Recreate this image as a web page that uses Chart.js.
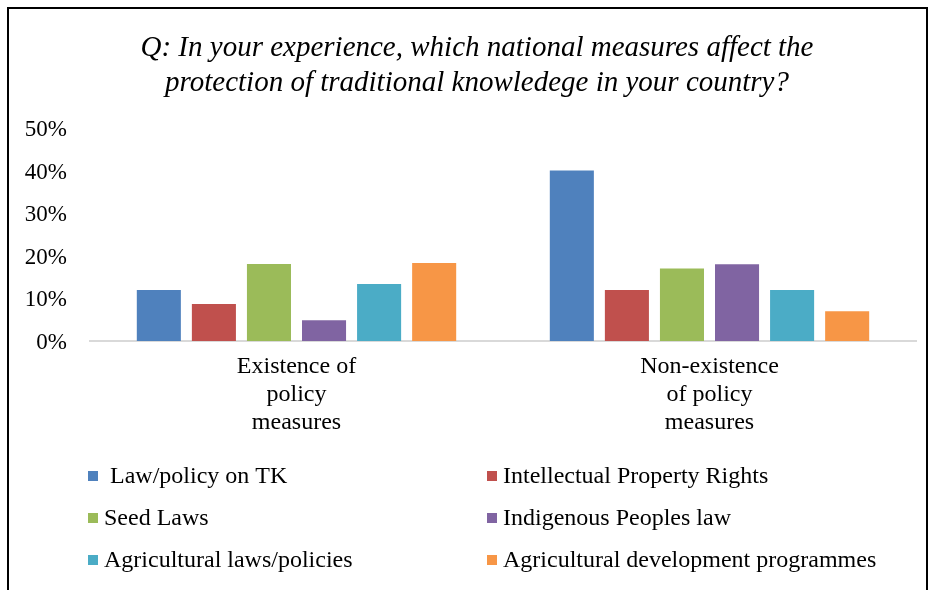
<!DOCTYPE html>
<html>
<head>
<meta charset="utf-8">
<script src="https://cdn.jsdelivr.net/npm/chart.js@4"></script>
<style>
  html, body { margin: 0; padding: 0; background: #fff; }
  #wrap { position: relative; width: 936px; height: 590px; overflow: hidden; }
  #frame { position: absolute; left: 7px; top: 7px; width: 921px; height: 620px; border: 2px solid #000; box-sizing: border-box; pointer-events: none; }
  canvas { position: absolute; left: 0; top: 0; }
</style>
</head>
<body>
<div id="wrap">
  <canvas id="c" width="936" height="590"></canvas>
  <div id="frame"></div>
</div>
<script>
const titleLines = ["Q: In your experience, which national measures affect the", "protection of traditional knowledege in your country?"];
const categories = [["Existence of", "policy", "measures"], ["Non-existence", "of policy", "measures"]];
const seriesNames = [" Law/policy on TK", "Intellectual Property Rights", "Seed Laws", "Indigenous Peoples law", "Agricultural laws/policies", "Agricultural development programmes"];
const lawPolicyTK = [12, 40];
const intellectualProperty = [8.7, 12];
const seedLaws = [18.1, 17];
const indigenousPeoples = [4.9, 18];
const agriculturalLaws = [13.4, 12];
const agriculturalDev = [18.3, 7];
const yTicks = [0, 10, 20, 30, 40, 50];

const colors = ["#4F81BD", "#C0504D", "#9BBB59", "#8064A2", "#4BACC6", "#F79646"];
const seriesValues = [lawPolicyTK, intellectualProperty, seedLaws, indigenousPeoples, agriculturalLaws, agriculturalDev];
const serif = "'Liberation Serif', 'Times New Roman', serif";

const titleAndLegendPlugin = {
  id: 'titleAndLegend',
  afterDraw(chart) {
    const ctx = chart.ctx;
    ctx.save();
    // title
    ctx.font = "italic 29px " + serif;
    ctx.fillStyle = '#000';
    ctx.textAlign = 'center';
    ctx.textBaseline = 'middle';
    titleLines.forEach((line, i) => ctx.fillText(line, 477, 48 + i * 35));
    // legend
    const base = chart.chartArea.bottom;
    const cols = [88, 487];
    const rows = [135, 177, 219];
    ctx.font = "24px " + serif;
    ctx.textAlign = 'left';
    chart.data.datasets.forEach((ds, i) => {
      const x = cols[i % 2];
      const y = base + rows[Math.floor(i / 2)];
      ctx.fillStyle = ds.backgroundColor;
      ctx.fillRect(x, y - 5, 10, 10);
      ctx.fillStyle = '#000';
      ctx.fillText(ds.label, x + 16, y + 1);
    });
    ctx.restore();
  }
};

new Chart(document.getElementById('c'), {
  type: 'bar',
  data: {
    labels: categories,
    datasets: seriesNames.map((name, i) => ({
      label: name,
      data: seriesValues[i],
      backgroundColor: colors[i],
      borderWidth: 0,
      categoryPercentage: 0.8,
      barPercentage: 0.8
    }))
  },
  options: {
    responsive: false,
    animation: false,
    devicePixelRatio: 1,
    layout: { padding: { left: 0, right: 20, top: 128, bottom: 0 } },
    plugins: {
      legend: { display: false },
      tooltip: { enabled: false },
      title: { display: false }
    },
    scales: {
      x: {
        grid: { display: false, drawTicks: false },
        border: { display: true, color: '#D9D9D9', width: 2 },
        ticks: { color: '#000', font: { family: serif, size: 24, lineHeight: 1.17 }, padding: 12, maxRotation: 0, autoSkip: false },
        afterFit(scale) { scale.height = 249; }
      },
      y: {
        min: 0, max: 50,
        afterBuildTicks(scale) { scale.ticks = yTicks.map(v => ({ value: v })); },
        grid: { display: false, drawTicks: false },
        border: { display: false },
        ticks: { color: '#000', font: { family: serif, size: 23 }, padding: 23, labelOffset: 2, callback: v => v + '%' },
        afterFit(scale) { scale.width = 90; }
      }
    }
  },
  plugins: [titleAndLegendPlugin]
});
</script>
</body>
</html>
